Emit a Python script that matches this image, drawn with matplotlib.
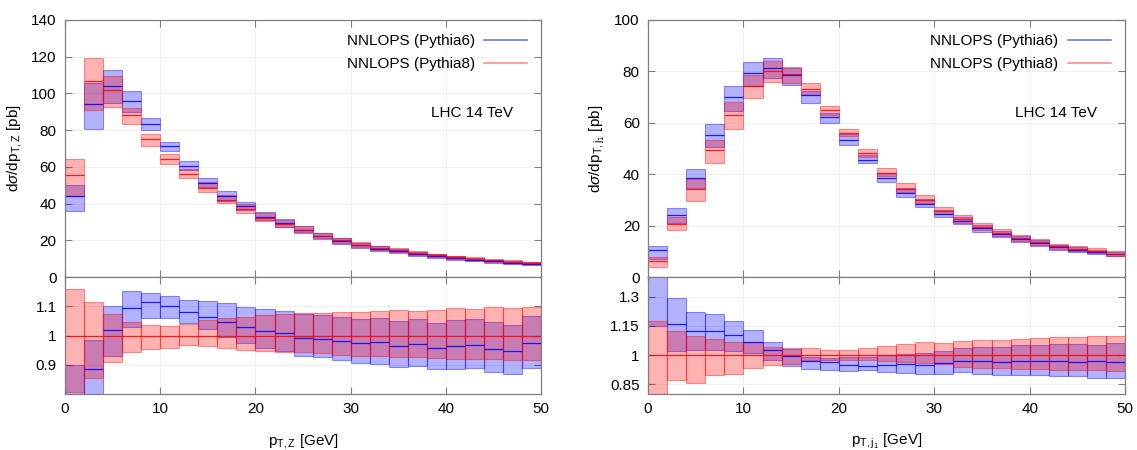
import numpy as np
import matplotlib.pyplot as plt
from matplotlib.lines import Line2D

plt.rcParams['font.family'] = ['Liberation Sans', 'DejaVu Sans']
plt.rcParams['mathtext.fontset'] = 'custom'
plt.rcParams['mathtext.rm'] = 'Liberation Sans'
plt.rcParams['mathtext.it'] = 'Liberation Sans:italic'
plt.rcParams['font.size'] = 11

# bins in pT [GeV]
bin_edges = np.arange(0, 52, 2)

# ---- left : pT,Z ----
z_p6 = [44, 94.5, 104, 96, 83.6, 71.3, 60.5, 51.1, 44.2, 38.5, 32.9, 29.2, 25.5, 22.2, 19.5,
        17.2, 15.4, 14.0, 12.6, 11.3, 10.3, 9.5, 8.6, 7.9, 7.3]
z_p6_lo = [35.8, 80.5, 95, 90, 80, 68.7, 58.5, 49.0, 41.5, 36.5, 31.0, 27.5, 23.9, 20.8, 18.2,
           15.95, 14.3, 12.95, 11.6, 10.45, 9.5, 8.7, 7.9, 7.2, 6.7]
z_p6_hi = [50, 105.5, 112.5, 101.5, 86.4, 73.3, 63, 54.2, 46.9, 40.9, 35.3, 31.4, 27.6, 24.0, 21.2,
           18.6, 16.8, 15.2, 13.7, 12.3, 11.3, 10.3, 9.4, 8.6, 8.0]
z_p8 = [55.5, 107, 102, 88.5, 75, 64.4, 56, 48.5, 42.2, 37.3, 32.4, 29.0, 25.7, 22.4, 19.9,
        17.6, 15.8, 14.5, 13.0, 11.8, 10.7, 9.8, 9.0, 8.3, 7.5]
z_p8_lo = [44, 91, 92.4, 83.3, 71.3, 61.5, 53.8, 46.4, 40.4, 35.1, 30.65, 27.3, 24.3, 21.1, 18.6,
           16.4, 14.7, 13.4, 12.05, 10.9, 9.85, 9.0, 8.3, 7.6, 6.9]
z_p8_hi = [64.2, 119.5, 109.6, 92.2, 77.8, 66.9, 58.7, 51.5, 44.5, 39.5, 34.7, 31.1, 27.65, 24.15, 21.5,
           19.0, 17.1, 15.8, 14.1, 12.8, 11.7, 10.7, 9.9, 9.1, 8.2]

# ratio to Pythia8
zr_p6 = [0.795, 0.886, 1.019, 1.095, 1.113, 1.102, 1.080, 1.064, 1.047, 1.028, 1.017, 1.008, 0.993,
         0.989, 0.982, 0.976, 0.977, 0.963, 0.972, 0.957, 0.963, 0.967, 0.955, 0.948, 0.974]
zr_p6_lo = [0.64, 0.75, 0.931, 1.028, 1.061, 1.061, 1.044, 1.021, 0.995, 0.976, 0.957, 0.948, 0.931,
            0.927, 0.915, 0.906, 0.903, 0.893, 0.895, 0.886, 0.886, 0.889, 0.876, 0.870, 0.889]
zr_p6_hi = [0.90, 0.985, 1.10, 1.153, 1.147, 1.134, 1.121, 1.118, 1.110, 1.098, 1.089, 1.084, 1.075,
            1.07, 1.064, 1.056, 1.061, 1.05, 1.056, 1.044, 1.053, 1.055, 1.045, 1.036, 1.067]
zr_p8_lo = [0.807, 0.855, 0.908, 0.942, 0.954, 0.956, 0.967, 0.963, 0.957, 0.951, 0.946, 0.942, 0.945,
            0.94, 0.934, 0.931, 0.931, 0.927, 0.927, 0.923, 0.92, 0.92, 0.92, 0.917, 0.915]
zr_p8_hi = [1.158, 1.113, 1.073, 1.045, 1.036, 1.031, 1.040, 1.053, 1.059, 1.064, 1.07, 1.072, 1.076,
            1.078, 1.081, 1.081, 1.084, 1.087, 1.085, 1.087, 1.093, 1.09, 1.096, 1.093, 1.098]

# ---- right : pT,j1 ----
j_p6 = [10.4, 24.3, 38.6, 55.2, 69.9, 79.2, 81.4, 78.6, 70.7, 62.4, 53.2, 45.5, 38.4, 32.7, 28.5,
        24.6, 21.8, 18.9, 16.7, 14.8, 13.2, 11.5, 10.5, 9.8, 8.8]
j_p6_lo = [7.0, 21, 34.5, 50.6, 64.5, 74.3, 77.5, 74.7, 67.6, 59.8, 51.4, 44.3, 37.0, 31.3, 27.2,
           23.2, 20.5, 17.6, 15.5, 13.7, 12.2, 10.6, 9.7, 8.9, 8.0]
j_p6_hi = [11.9, 27, 42.2, 59.4, 74.4, 83.8, 85.3, 81.4, 72.3, 63.9, 55.5, 47.6, 40.5, 34.6, 30.4,
           26.2, 23.4, 20.3, 18.0, 16.1, 14.3, 12.6, 11.5, 10.6, 9.6]
j_p8 = [6.4, 20.8, 34.4, 49.4, 63.2, 74.3, 80.1, 79.0, 73.0, 64.9, 56.1, 48.1, 40.5, 34.4, 30.1,
        25.7, 22.5, 19.5, 17.3, 15.3, 13.6, 11.9, 10.9, 10.1, 9.1]
j_p8_lo = [3.9, 18.2, 29.5, 44.4, 57.5, 69.7, 75.7, 75.4, 71.0, 63.2, 54.7, 46.8, 39.3, 33.1, 28.8,
           24.5, 21.1, 18.2, 16.1, 14.2, 12.6, 11.0, 10.1, 9.3, 8.3]
j_p8_hi = [7.6, 23.4, 38.0, 53.5, 68.2, 78.6, 84.0, 81.8, 75.6, 66.6, 57.6, 49.9, 42.4, 36.4, 32.1,
           27.3, 24.2, 21.0, 18.6, 16.5, 14.8, 13.0, 11.9, 11.1, 10.0]

jr_p6 = [1.62, 1.161, 1.125, 1.121, 1.104, 1.066, 1.026, 0.995, 0.969, 0.962, 0.948, 0.945, 0.948,
         0.952, 0.948, 0.957, 0.969, 0.969, 0.965, 0.969, 0.971, 0.969, 0.965, 0.969, 0.965]
jr_p6_lo = [1.147, 1.021, 1.026, 1.024, 1.022, 1.009, 0.974, 0.945, 0.926, 0.922, 0.917, 0.922, 0.913,
            0.910, 0.905, 0.901, 0.913, 0.905, 0.896, 0.896, 0.896, 0.893, 0.891, 0.884, 0.884]
jr_p6_hi = [1.9, 1.29, 1.221, 1.211, 1.173, 1.13, 1.066, 1.03, 0.99, 0.985, 0.99, 0.99, 1.0,
            1.005, 1.01, 1.02, 1.038, 1.04, 1.04, 1.052, 1.052, 1.057, 1.057, 1.052, 1.06]
jr_p8_lo = [0.79, 0.870, 0.856, 0.90, 0.905, 0.934, 0.948, 0.955, 0.972, 0.974, 0.975, 0.972, 0.971,
            0.962, 0.957, 0.952, 0.939, 0.934, 0.931, 0.927, 0.926, 0.924, 0.924, 0.924, 0.917]
jr_p8_hi = [1.173, 1.125, 1.099, 1.083, 1.069, 1.065, 1.043, 1.035, 1.035, 1.026, 1.026, 1.038, 1.047,
            1.057, 1.066, 1.064, 1.074, 1.078, 1.078, 1.081, 1.087, 1.092, 1.092, 1.095, 1.095]

BLUE = (0.0, 0.0, 1.0)
RED = (1.0, 0.0, 0.0)
GREY = '#7f7f7f'


def bands(ax, lo, hi, col):
    lo = np.asarray(lo)
    hi = np.asarray(hi)
    ax.bar(bin_edges[:-1], hi - lo, width=2, bottom=lo, align='edge',
           facecolor=col + (0.3,), edgecolor=col + (0.4,), linewidth=0.8)


def centre(ax, vals, col):
    ax.hlines(vals, bin_edges[:-1], bin_edges[1:], colors=[col + (0.85,)], linewidth=0.9)


def style(ax):
    ax.set_xlim(0, 50)
    ax.set_xticks([0, 10, 20, 30, 40, 50])
    ax.tick_params(direction='in', top=True, right=True, length=5, width=0.8,
                   color=GREY, pad=6, labelsize=11)
    for s in ax.spines.values():
        s.set_color(GREY)
        s.set_linewidth(0.9)
    ax.grid(True, color='#eeeeee', linewidth=0.6)
    ax.set_axisbelow(True)


def panel(x0, w, p6, p6lo, p6hi, p8, p8lo, p8hi, r6, r6lo, r6hi, r8lo, r8hi,
          ymax, rlim, rticks, ylab, xlab):
    ax = fig.add_axes([x0, 0.3844, w, 0.5712])
    axr = fig.add_axes([x0, 0.1244, w, 0.26])

    bands(ax, p6lo, p6hi, BLUE)
    centre(ax, p6, BLUE)
    bands(ax, p8lo, p8hi, RED)
    centre(ax, p8, RED)
    style(ax)
    ax.set_ylim(0, ymax)
    ax.set_yticks(np.arange(0, ymax + 1, 20))
    ax.set_xticklabels([])
    ax.set_ylabel(ylab, fontsize=11, labelpad=5)

    handles = [Line2D([], [], color=BLUE + (0.55,), lw=1.2),
               Line2D([], [], color=RED + (0.45,), lw=1.2)]
    ax.legend(handles, ['NNLOPS (Pythia6)', 'NNLOPS (Pythia8)'], loc='upper right',
              frameon=False, markerfirst=False, handlelength=2.8, handletextpad=0.6,
              labelspacing=0.55, borderaxespad=0.55, fontsize=11)
    ax.text(0.941, 0.638, 'LHC 14 TeV', transform=ax.transAxes, ha='right', va='center',
            fontsize=11)

    bands(axr, r6lo, r6hi, BLUE)
    centre(axr, r6, BLUE)
    bands(axr, r8lo, r8hi, RED)
    axr.axhline(1.0, color=RED + (0.85,), linewidth=0.9)
    style(axr)
    axr.set_ylim(*rlim)
    axr.set_yticks(rticks)
    axr.set_yticklabels([f'{t:g}' for t in rticks])
    axr.set_xlabel(xlab, fontsize=11, labelpad=11)
    return ax, axr


fig = plt.figure(figsize=(11.37, 4.5), dpi=100)

panel(0.0572, 0.4187, z_p6, z_p6_lo, z_p6_hi, z_p8, z_p8_lo, z_p8_hi,
      zr_p6, zr_p6_lo, zr_p6_hi, zr_p8_lo, zr_p8_hi,
      140, (0.8, 1.2), [0.9, 1.0, 1.1],
      r'd$\sigma$/dp$_{\mathrm{T,Z}}$ [pb]', r'p$_{\mathrm{T,Z}}$ [GeV]')

panel(0.5700, 0.4195, j_p6, j_p6_lo, j_p6_hi, j_p8, j_p8_lo, j_p8_hi,
      jr_p6, jr_p6_lo, jr_p6_hi, jr_p8_lo, jr_p8_hi,
      100, (0.8, 1.4), [0.85, 1.0, 1.15, 1.3],
      r'd$\sigma$/dp$_{\mathrm{T,j_1}}$ [pb]', r'p$_{\mathrm{T,j_1}}$ [GeV]')

fig.savefig('out.png', dpi=100)
